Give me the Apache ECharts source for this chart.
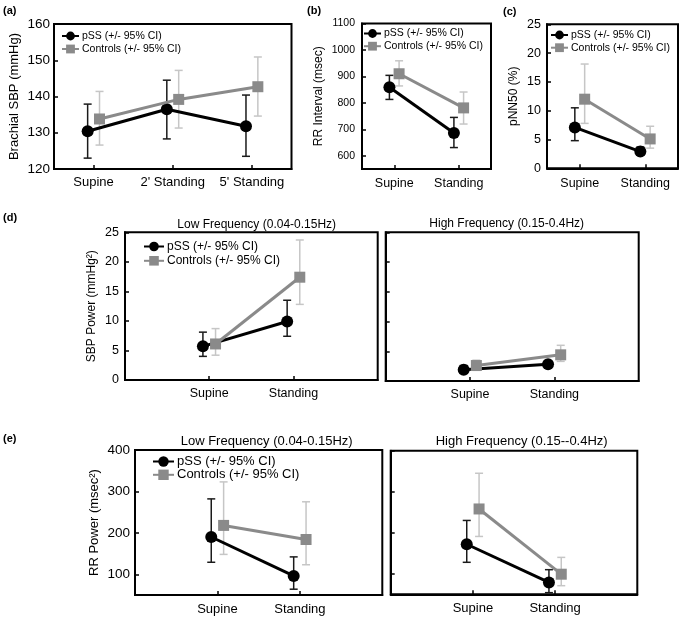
<!DOCTYPE html>
<html><head><meta charset="utf-8">
<script src="https://cdn.jsdelivr.net/npm/echarts@6/dist/echarts.min.js"></script>
<style>html,body{margin:0;padding:0;background:#fff}#c{width:685px;height:621px}</style>
</head><body><div id="c"></div>
<script>
// ---------------- data ----------------
const catsSBP = ["Supine", "2' Standing", "5' Standing"];
const catsPos = ["Supine", "Standing"];
const namePss = "pSS (+/- 95% CI)";
const nameCtl = "Controls (+/- 95% CI)";

// (a) Brachial SBP (mmHg)
const sbpPss   = [130.4, 136.5, 131.8];
const sbpPssLo = [123.0, 128.3, 123.5];
const sbpPssHi = [137.9, 144.5, 140.4];
const sbpCtl   = [133.8, 139.2, 142.7];
const sbpCtlLo = [126.6, 131.3, 134.6];
const sbpCtlHi = [141.4, 147.2, 150.9];

// (b) RR interval (msec)
const rrPss   = [859, 686];
const rrPssLo = [813, 631];
const rrPssHi = [904, 745];
const rrCtl   = [910, 781];
const rrCtlLo = [864, 720];
const rrCtlHi = [959, 841];

// (c) pNN50 (%)
const pnnPss   = [7.1, 2.9];
const pnnPssLo = [4.8, 2.3];
const pnnPssHi = [10.5, 3.7];
const pnnCtl   = [12.0, 5.1];
const pnnCtlLo = [7.8, 3.5];
const pnnCtlHi = [18.1, 7.3];

// (d) SBP power, low frequency
const sbpLfPss   = [5.7, 9.9];
const sbpLfPssLo = [4.0, 7.4];
const sbpLfPssHi = [8.1, 13.5];
const sbpLfCtl   = [6.1, 17.4];
const sbpLfCtlLo = [4.2, 12.8];
const sbpLfCtlHi = [8.7, 23.7];

// (d) SBP power, high frequency
const sbpHfPss   = [1.9, 2.8];
const sbpHfPssLo = [1.3, 2.2];
const sbpHfPssHi = [2.6, 3.4];
const sbpHfCtl   = [2.6, 4.4];
const sbpHfCtlLo = [1.8, 3.3];
const sbpHfCtlHi = [3.5, 6.0];

// (e) RR power, low frequency
const rrLfPss   = [190, 96];
const rrLfPssLo = [129, 64];
const rrLfPssHi = [282, 142];
const rrLfCtl   = [218, 184];
const rrLfCtlLo = [148, 123];
const rrLfCtlHi = [323, 275];

// (e) RR power, high frequency
const rrHfPss   = [172, 79];
const rrHfPssLo = [128, 54];
const rrHfPssHi = [230, 110];
const rrHfCtl   = [258, 99];
const rrHfCtlLo = [191, 71];
const rrHfCtlHi = [345, 140];

// tick labels
const ticksSBP = [120, 130, 140, 150, 160];
const ticksRR = [600, 700, 800, 900, 1000, 1100];
const ticksPNN = [0, 5, 10, 15, 20, 25];
const ticksSBPPow = [0, 5, 10, 15, 20, 25];
const ticksRRPow = [100, 200, 300, 400];

// ---------------- layout ----------------
const FONT = "Liberation Sans, Arial, sans-serif";
const OFF = 0.075;
const panels = [
  {cats: catsSBP, d: [sbpPss, sbpPssLo, sbpPssHi, sbpCtl, sbpCtlLo, sbpCtlHi],
   left: 54, top: 24, width: 237.5, height: 145, xmin: -0.5, xmax: 2.5, ymin: 120, ymax: 160,
   yTicks: ticksSBP, yLabels: true, yFont: 13.5, yMargin: 4, xFont: 13, xMargin: 7,
   name: 'Brachial SBP (mmHg)', nameFont: 13, nameGap: 33,
   legend: {left: 61, top: 30.5, font: 10.5, w: 17, h: 11, gap: 2}},
  {cats: catsPos, d: [rrPss, rrPssLo, rrPssHi, rrCtl, rrCtlLo, rrCtlHi],
   left: 362, top: 23.5, width: 129, height: 145.5, xmin: -0.5, xmax: 1.5, ymin: 550, ymax: 1100,
   yTicks: ticksRR, yLabels: true, yFont: 10.5, yMargin: 7, xFont: 12.5, xMargin: 8,
   name: 'RR Interval (msec)', nameFont: 12, nameGap: 37,
   legend: {left: 363, top: 28, font: 10.5, w: 17, h: 11, gap: 1.7}},
  {cats: catsPos, d: [pnnPss, pnnPssLo, pnnPssHi, pnnCtl, pnnCtlLo, pnnCtlHi],
   left: 547, top: 24.3, width: 131, height: 144, xmin: -0.5, xmax: 1.5, ymin: 0, ymax: 25,
   yTicks: ticksPNN, yLabels: true, yFont: 12.5, yMargin: 6, xFont: 12.5, xMargin: 8.5,
   name: 'pNN50 (%)', nameFont: 12, nameGap: 27,
   legend: {left: 550, top: 29.5, font: 10.5, w: 17, h: 11, gap: 1.7}},
  {cats: catsPos, d: [sbpLfPss, sbpLfPssLo, sbpLfPssHi, sbpLfCtl, sbpLfCtlLo, sbpLfCtlHi],
   left: 125, top: 232.3, width: 252.7, height: 147.7, xmin: -1, xmax: 2, ymin: 0, ymax: 25,
   yTicks: ticksSBPPow, yLabels: true, yFont: 12.5, yMargin: 6, xFont: 12.5, xMargin: 7,
   name: 'SBP Power (mmHg\u00B2)', nameFont: 12, nameGap: 27,
   legend: {left: 143, top: 240.5, font: 12, w: 20, h: 12, gap: 2.3}},
  {cats: catsPos, d: [sbpHfPss, sbpHfPssLo, sbpHfPssHi, sbpHfCtl, sbpHfCtlLo, sbpHfCtlHi],
   left: 385.7, top: 232.3, width: 253, height: 148.7, xmin: -1, xmax: 2, ymin: 0, ymax: 25,
   yTicks: ticksSBPPow, yLabels: false, yFont: 12.5, yMargin: 6, xFont: 12.5, xMargin: 7},
  {cats: catsPos, d: [rrLfPss, rrLfPssLo, rrLfPssHi, rrLfCtl, rrLfCtlLo, rrLfCtlHi],
   left: 135, top: 450, width: 247.3, height: 145, xmin: -1, xmax: 2, ymin: 50, ymax: 400,
   yTicks: ticksRRPow, yLabels: true, yFont: 13.5, yMargin: 5, xFont: 13, xMargin: 7.5,
   name: 'RR Power (msec\u00B2)', nameFont: 13, nameGap: 34,
   legend: {left: 152, top: 455, font: 13, w: 21, h: 13, gap: 0.3}},
  {cats: catsPos, d: [rrHfPss, rrHfPssLo, rrHfPssHi, rrHfCtl, rrHfCtlLo, rrHfCtlHi],
   left: 390.7, top: 450.7, width: 246.6, height: 143.6, xmin: -1, xmax: 2, ymin: 50, ymax: 400,
   yTicks: ticksRRPow, yLabels: false, yFont: 13.5, yMargin: 5, xFont: 13, xMargin: 8}
];

const PSS_COLOR = '#000000';
const CTL_COLOR = '#8a8a8a';
const PSS_ERR = '#1a1a1a';
const CTL_ERR = '#c6c6c6';

function errRender(color, cap) {
  return function (params, api) {
    const x = api.value(0), lo = api.value(1), hi = api.value(2);
    const p1 = api.coord([x, hi]), p2 = api.coord([x, lo]);
    const style = {stroke: color, lineWidth: 1.5, fill: null};
    return {type: 'group', children: [
      {type: 'line', shape: {x1: p1[0], y1: p1[1], x2: p2[0], y2: p2[1]}, style: style},
      {type: 'line', shape: {x1: p1[0] - cap, y1: p1[1], x2: p1[0] + cap, y2: p1[1]}, style: style},
      {type: 'line', shape: {x1: p2[0] - cap, y1: p2[1], x2: p2[0] + cap, y2: p2[1]}, style: style}
    ]};
  };
}

const grid = [], xAxis = [], yAxis = [], series = [], legend = [];
panels.forEach(function (p, i) {
  grid.push({left: p.left, top: p.top, width: p.width, height: p.height, show: true,
    borderColor: '#000', borderWidth: 2, backgroundColor: 'transparent', outerBoundsMode: 'none'});
  const idx = p.cats.map(function (c, k) { return k; });
  xAxis.push({type: 'value', gridIndex: i, min: p.xmin, max: p.xmax,
    axisLine: {show: true, onZero: false, lineStyle: {color: '#000', width: 2}},
    axisTick: {show: true, inside: true, length: 4, customValues: idx, lineStyle: {color: '#000', width: 1.5}},
    axisLabel: {show: true, customValues: idx, color: '#000', fontSize: p.xFont, fontFamily: FONT, margin: p.xMargin,
      formatter: function (v) { return p.cats[Math.round(v)]; }},
    splitLine: {show: false}});
  yAxis.push({type: 'value', gridIndex: i, min: p.ymin, max: p.ymax,
    axisLine: {show: true, onZero: false, lineStyle: {color: '#000', width: 2}},
    axisTick: {show: true, inside: true, length: 4, customValues: p.yTicks, lineStyle: {color: '#000', width: 1.5}},
    axisLabel: {show: p.yLabels, customValues: p.yTicks, color: '#000', fontSize: p.yFont, fontFamily: FONT, margin: p.yMargin,
      formatter: function (v) { return String(v); }},
    splitLine: {show: false},
    name: p.name || '', nameLocation: 'middle', nameGap: p.nameGap || 0,
    nameTextStyle: {color: '#000', fontSize: p.nameFont || 12, fontFamily: FONT}});
  const d = p.d;
  const mk = function (arr, lo, hi, off) {
    return {line: arr.map(function (v, k) { return [k + off, v]; }),
            err: arr.map(function (v, k) { return [k + off, lo[k], hi[k]]; })};
  };
  const s1 = mk(d[0], d[1], d[2], -OFF);
  const s2 = mk(d[3], d[4], d[5], OFF);
  series.push({type: 'custom', name: 'ctl-ci', xAxisIndex: i, yAxisIndex: i, z: 1,
    renderItem: errRender(CTL_ERR, 4), encode: {x: 0, y: [1, 2]}, data: s2.err, silent: true});
  series.push({type: 'custom', name: 'pss-ci', xAxisIndex: i, yAxisIndex: i, z: 2,
    renderItem: errRender(PSS_ERR, 4), encode: {x: 0, y: [1, 2]}, data: s1.err, silent: true});
  series.push({type: 'line', name: namePss, xAxisIndex: i, yAxisIndex: i, z: 3,
    data: s1.line, symbol: 'circle', symbolSize: 12, itemStyle: {color: PSS_COLOR},
    lineStyle: {color: PSS_COLOR, width: 3}, animation: false});
  series.push({type: 'line', name: nameCtl, xAxisIndex: i, yAxisIndex: i, z: 4,
    data: s2.line, symbol: 'rect', symbolSize: 11, itemStyle: {color: CTL_COLOR},
    lineStyle: {color: CTL_COLOR, width: 3}, animation: false});
  if (p.legend) {
    const L = p.legend;
    legend.push({data: [namePss, nameCtl], orient: 'vertical', left: L.left, top: L.top,
      itemWidth: L.w, itemHeight: L.h, itemGap: L.gap, padding: 0, selectedMode: false,
      textStyle: {color: '#000', fontSize: L.font, fontFamily: FONT, padding: [0, 0, 0, -2]}});
  }
});

const graphic = [
  {type: 'text', x: 3, y: 11, style: {text: '(a)', font: 'bold 11px ' + FONT, fill: '#000', verticalAlign: 'middle'}},
  {type: 'text', x: 307, y: 11, style: {text: '(b)', font: 'bold 11px ' + FONT, fill: '#000', verticalAlign: 'middle'}},
  {type: 'text', x: 503, y: 11.5, style: {text: '(c)', font: 'bold 11px ' + FONT, fill: '#000', verticalAlign: 'middle'}},
  {type: 'text', x: 3, y: 217.5, style: {text: '(d)', font: 'bold 11px ' + FONT, fill: '#000', verticalAlign: 'middle'}},
  {type: 'text', x: 3, y: 438.5, style: {text: '(e)', font: 'bold 11px ' + FONT, fill: '#000', verticalAlign: 'middle'}},
  {type: 'text', x: 256.7, y: 225, style: {text: 'Low Frequency (0.04-0.15Hz)', font: '12px ' + FONT, fill: '#000', align: 'center', verticalAlign: 'middle'}},
  {type: 'text', x: 506.7, y: 224, style: {text: 'High Frequency (0.15-0.4Hz)', font: '12px ' + FONT, fill: '#000', align: 'center', verticalAlign: 'middle'}},
  {type: 'text', x: 266.7, y: 441.7, style: {text: 'Low Frequency (0.04-0.15Hz)', font: '13px ' + FONT, fill: '#000', align: 'center', verticalAlign: 'middle'}},
  {type: 'text', x: 521.7, y: 441.7, style: {text: 'High Frequency (0.15--0.4Hz)', font: '13px ' + FONT, fill: '#000', align: 'center', verticalAlign: 'middle'}}
];

const chart = echarts.init(document.getElementById('c'), null, {renderer: 'canvas'});
chart.setOption({
  animation: false,
  backgroundColor: '#fff',
  textStyle: {fontFamily: FONT},
  grid: grid, xAxis: xAxis, yAxis: yAxis, series: series, legend: legend, graphic: graphic
});
</script>
</body></html>
